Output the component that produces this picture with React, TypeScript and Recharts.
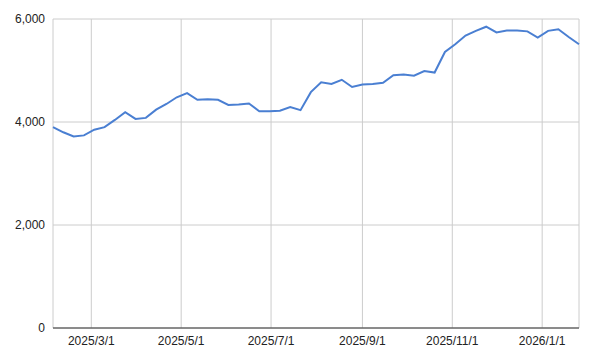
import { CartesianGrid, Line, LineChart, XAxis, YAxis } from "recharts";

// weekly readings, Monday of each week
const WEEKS = [
  "2025-02-03", "2025-02-10", "2025-02-17", "2025-02-24",
  "2025-03-03", "2025-03-10", "2025-03-17", "2025-03-24", "2025-03-31",
  "2025-04-07", "2025-04-14", "2025-04-21", "2025-04-28",
  "2025-05-05", "2025-05-12", "2025-05-19", "2025-05-26",
  "2025-06-02", "2025-06-09", "2025-06-16", "2025-06-23", "2025-06-30",
  "2025-07-07", "2025-07-14", "2025-07-21", "2025-07-28",
  "2025-08-04", "2025-08-11", "2025-08-18", "2025-08-25",
  "2025-09-01", "2025-09-08", "2025-09-15", "2025-09-22", "2025-09-29",
  "2025-10-06", "2025-10-13", "2025-10-20", "2025-10-27",
  "2025-11-03", "2025-11-10", "2025-11-17", "2025-11-24",
  "2025-12-01", "2025-12-08", "2025-12-15", "2025-12-22", "2025-12-29",
  "2026-01-05", "2026-01-12", "2026-01-19", "2026-01-26",
];

const VALUES = [
  3900, 3800, 3720, 3740, 3850, 3900, 4040, 4190, 4060, 4080,
  4240, 4350, 4480, 4560, 4430, 4440, 4430, 4330, 4340, 4360,
  4210, 4210, 4220, 4290, 4230, 4580, 4770, 4740, 4820, 4680,
  4730, 4740, 4760, 4910, 4920, 4900, 4990, 4960, 5360, 5510,
  5680, 5770, 5850, 5740, 5775, 5775, 5760, 5640, 5770, 5800,
  5650, 5510,
];

const X_TICKS = ["2025-03-01", "2025-05-01", "2025-07-01", "2025-09-01", "2025-11-01", "2026-01-01"];
const Y_TICKS = [0, 2000, 4000, 6000];

const toMs = (s: string) => Date.parse(s + "T00:00:00Z");

const AXIS = { fontSize: 12, fill: "#222222", fontFamily: "'Liberation Sans', Arial, sans-serif" } as const;

export default function App() {
  const data = WEEKS.map((w, i) => ({ t: toMs(w), v: VALUES[i] }));
  const fmtDate = (ms: number) => {
    const d = new Date(ms);
    return `${d.getUTCFullYear()}/${d.getUTCMonth() + 1}/${d.getUTCDate()}`;
  };

  return (
    <div style={{ position: "absolute", left: 0, top: 0, width: 591, height: 355, background: "#fff" }}>
      <LineChart width={591} height={355} data={data} margin={{ top: 19, right: 12, bottom: 0, left: 0 }}>
        <CartesianGrid stroke="#cccccc" />
        <XAxis
          dataKey="t"
          type="number"
          scale="time"
          domain={[toMs(WEEKS[0]), toMs(WEEKS[WEEKS.length - 1])]}
          ticks={X_TICKS.map(toMs)}
          tickFormatter={fmtDate}
          tick={AXIS}
          tickLine={false}
          tickSize={0}
          tickMargin={8}
          height={27}
          stroke="#333333"
        />
        <YAxis
          domain={[0, 6000]}
          ticks={Y_TICKS}
          tickFormatter={(v: number) => v.toLocaleString("en-US")}
          tick={AXIS}
          axisLine={false}
          tickLine={false}
          tickSize={0}
          tickMargin={8}
          width={53}
        />
        <Line
          dataKey="v"
          type="linear"
          stroke="#4a7fd2"
          strokeWidth={2}
          dot={false}
          isAnimationActive={false}
        />
      </LineChart>
    </div>
  );
}
